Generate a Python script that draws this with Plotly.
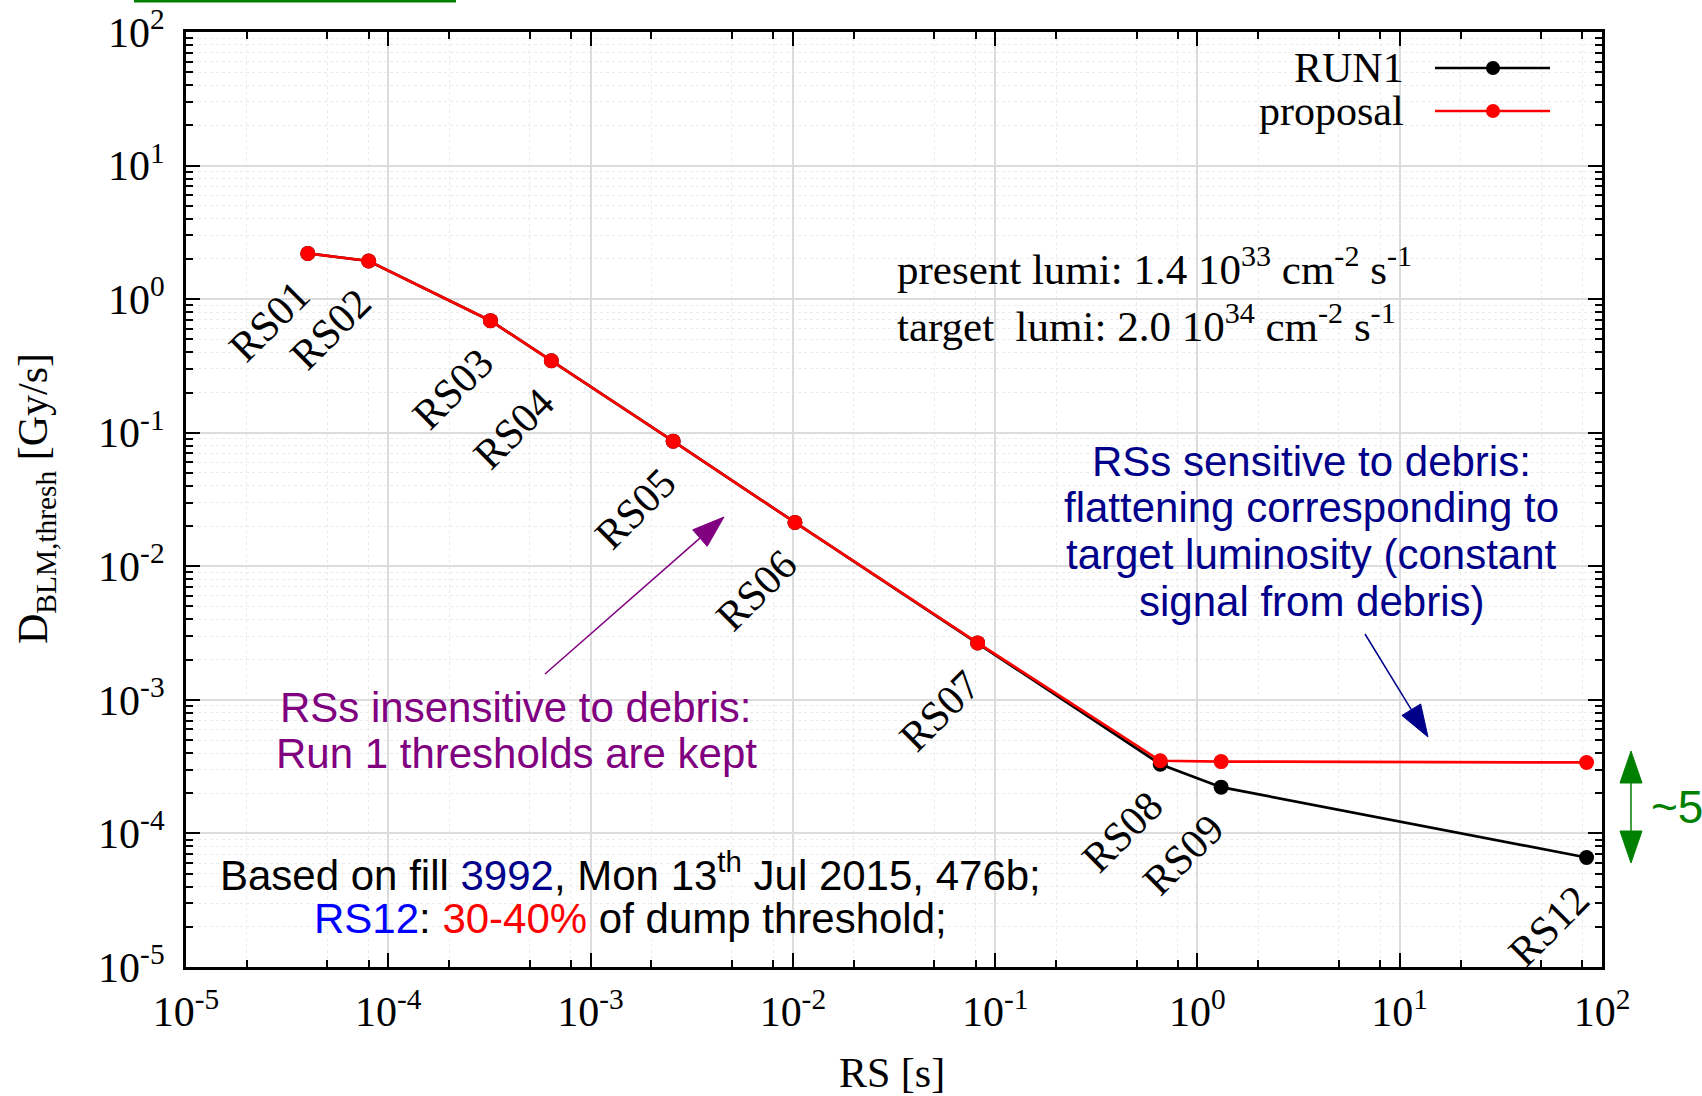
import math
import plotly.graph_objects as go

# ---------------- data ----------------
rs_names = ["RS01", "RS02", "RS03", "RS04", "RS05", "RS06", "RS07", "RS08", "RS09", "RS12"]
rs_time = [4.0e-5, 8.0e-5, 3.2e-4, 6.4e-4, 2.56e-3, 1.024e-2, 8.192e-2, 0.655, 1.31, 83.89]
run1 = [2.2, 1.93, 0.69, 0.346, 0.0865, 0.0213, 0.00267, 3.3e-4, 2.22e-4, 6.6e-5]
proposal = [2.2, 1.93, 0.69, 0.346, 0.0865, 0.0213, 0.00267, 3.5e-4, 3.45e-4, 3.4e-4]

x_tick_vals = [1e-5, 1e-4, 1e-3, 1e-2, 1e-1, 1e0, 1e1, 1e2]
x_tick_text = ["10<sup>-5</sup>", "10<sup>-4</sup>", "10<sup>-3</sup>", "10<sup>-2</sup>",
               "10<sup>-1</sup>", "10<sup>0</sup>", "10<sup>1</sup>", "10<sup>2</sup>"]
y_tick_vals = x_tick_vals
y_tick_text = x_tick_text
x_minor_mult = [2, 5, 8]
y_minor_mult = [2, 3, 4, 5, 6, 7, 8, 9]
decades = [-5, -4, -3, -2, -1, 0, 1]

# ---------------- layout geometry ----------------
W, H = 1702, 1096
L, R, T, B = 186, 1602, 32, 967
PW, PH = R - L, B - T

def px(x):
    return (x - L) / PW

def py(y):
    return (B - y) / PH

SERIF = "Liberation Serif, Times New Roman, serif"
SANS = "Liberation Sans, Arial, sans-serif"
FS = 42

fig = go.Figure()
fig.add_trace(go.Scatter(x=rs_time, y=run1, mode="lines+markers", name="RUN1",
                         line=dict(color="black", width=2.7),
                         marker=dict(size=15, color="black"), showlegend=False))
fig.add_trace(go.Scatter(x=rs_time, y=proposal, mode="lines+markers", name="proposal",
                         line=dict(color="#ff0000", width=2.7),
                         marker=dict(size=15, color="#ff0000"), showlegend=False))

anns = []
shapes = []

# RS labels next to points
for name, t, v in zip(rs_names, rs_time, run1):
    anns.append(dict(x=math.log10(t), y=math.log10(v), xref="x", yref="y", text=name,
                     showarrow=False, textangle=-45, xshift=-38, yshift=-68,
                     font=dict(family=SERIF, size=FS, color="black")))

def text(t, x, y, size=FS, color="black", family=SANS, xanchor="center", angle=0):
    anns.append(dict(x=px(x), y=py(y), xref="paper", yref="paper", text=t, showarrow=False,
                     xanchor=xanchor, yanchor="middle", textangle=angle,
                     font=dict(family=family, size=size, color=color)))

# axis titles
text("D<sub>BLM,thresh</sub> [Gy/s]", 36, 499, family=SERIF, angle=-90)
text("RS [s]", 892, 1073, family=SERIF)

# lumi texts
text("present lumi: 1.4 10<sup>33</sup> cm<sup>-2</sup> s<sup>-1</sup>", 895, 266, size=43, family=SERIF, xanchor="left")
text("target\u00a0 lumi: 2.0 10<sup>34</sup> cm<sup>-2</sup> s<sup>-1</sup>", 895, 323, size=43, family=SERIF, xanchor="left")

# blue explanatory text
NAVY = "#00008b"
for i, line in enumerate(["RSs sensitive to debris:", "flattening corresponding to",
                          "target luminosity (constant", "signal from debris)"]):
    text(line, 1311, 461 + i * 46.7, color=NAVY)

PURPLE = "#800080"
for i, line in enumerate(["RSs insensitive to debris:", "Run 1 thresholds are kept"]):
    text(line, 516, 707 + i * 46.7, color=PURPLE)

text("Based on fill <span style='color:#00008b'>3992</span>, Mon 13<sup>th</sup> Jul 2015, 476b;", 630, 872)
text("<span style='color:#0000ff'>RS12</span>: <span style='color:#ff0000'>30-40%</span> of dump threshold;", 630, 918)

GREEN = "#008000"
text("~5", 1649, 807, size=46, color=GREEN, xanchor="left")

# legend (key on the right, text on the left)
for lab, col, yy in [("RUN1", "black", 68), ("proposal", "#ff0000", 111)]:
    text(lab, 1406, yy, family=SERIF, xanchor="right")
    shapes.append(dict(type="line", xref="paper", yref="paper", x0=px(1435), x1=px(1550),
                       y0=py(yy), y1=py(yy), line=dict(color=col, width=2.5)))
    shapes.append(dict(type="circle", xref="paper", yref="paper", x0=px(1486), x1=px(1500),
                       y0=py(yy - 7), y1=py(yy + 7), fillcolor=col, line=dict(color=col, width=0)))

# arrows
def arrow(tail, tip, color, width=1.5, hl=32, hw=11):
    tx, ty = tail
    hx, hy = tip
    dx, dy = hx - tx, hy - ty
    d = (dx * dx + dy * dy) ** 0.5
    ux, uy = dx / d, dy / d
    bx, by = hx - ux * hl, hy - uy * hl
    nx, ny = -uy, ux
    shapes.append(dict(type="line", xref="paper", yref="paper", x0=px(tx), y0=py(ty),
                       x1=px(bx), y1=py(by), line=dict(color=color, width=width)))
    p1 = (bx + nx * hw, by + ny * hw)
    p2 = (bx - nx * hw, by - ny * hw)
    path = "M {:.5f},{:.5f} L {:.5f},{:.5f} L {:.5f},{:.5f} Z".format(
        px(hx), py(hy), px(p1[0]), py(p1[1]), px(p2[0]), py(p2[1]))
    shapes.append(dict(type="path", xref="paper", yref="paper", path=path,
                       fillcolor=color, line=dict(color=color, width=1)))

arrow((545, 674), (724, 517), PURPLE)
arrow((1365, 634), (1428, 737), NAVY)
arrow((1631, 807), (1631, 751), GREEN)
arrow((1631, 807), (1631, 863), GREEN)

# green bar at top edge
shapes.append(dict(type="rect", xref="paper", yref="paper", x0=px(134), x1=px(456),
                   y0=py(2.5), y1=py(0), fillcolor=GREEN, line=dict(width=0)))

x_minor = [m * 10.0 ** e for e in decades for m in x_minor_mult]
y_minor = [m * 10.0 ** e for e in decades for m in y_minor_mult]

axis_common = dict(type="log", range=[-5, 2], ticks="inside", ticklen=14, tickwidth=2,
                   tickcolor="black", showline=True, linewidth=3, linecolor="black",
                   mirror="ticks", showgrid=True, gridcolor="#dcdcdc", gridwidth=1.5,
                   zeroline=False, tickfont=dict(family=SERIF, size=FS, color="black"))

fig.update_layout(
    width=W, height=H,
    margin=dict(l=L, r=W - R, t=T, b=H - B, autoexpand=False),
    paper_bgcolor="white", plot_bgcolor="white",
    showlegend=False,
    xaxis=dict(**axis_common, tickmode="array", tickvals=x_tick_vals, ticktext=x_tick_text,
               ticklabelstandoff=6,
               minor=dict(tickmode="array", tickvals=x_minor, ticks="inside", ticklen=7,
                          tickwidth=2, tickcolor="black", showgrid=True,
                          gridcolor="#ebebeb", griddash="dot", gridwidth=1)),
    yaxis=dict(**axis_common, tickmode="array", tickvals=y_tick_vals, ticktext=y_tick_text,
               ticklabelstandoff=10,
               minor=dict(tickmode="array", tickvals=y_minor, ticks="inside", ticklen=7,
                          tickwidth=2, tickcolor="black", showgrid=True,
                          gridcolor="#ebebeb", griddash="dot", gridwidth=1)),
    annotations=anns,
    shapes=shapes,
)

fig.write_html("out.html")
